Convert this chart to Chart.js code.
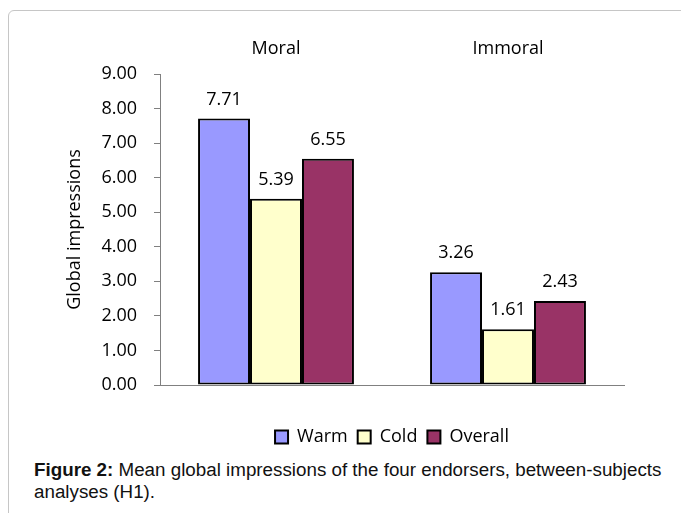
<!DOCTYPE html>
<html>
<head>
<meta charset="utf-8">
<script src="https://cdn.jsdelivr.net/npm/chart.js@4"></script>
<style>
  html, body { margin: 0; padding: 0; background: #fff; width: 681px; height: 513px; overflow: hidden; }
  #frame { position: absolute; left: 8px; top: 10px; width: 720px; height: 560px; border: 1px solid #c6c6c6; border-radius: 6px; box-sizing: border-box; }
  #wrap { position: absolute; left: 0; top: 0; width: 681px; height: 459px; }
  #caption { position: absolute; left: 34px; top: 459px; font-family: "Liberation Sans", Arial, sans-serif; font-size: 18.8px; line-height: 22px; color: #111; white-space: nowrap; }
</style>
</head>
<body>
<div id="frame"></div>
<div id="wrap"><canvas id="c"></canvas></div>
<div id="caption"><b>Figure 2:</b> Mean global impressions of the four endorsers, between-subjects<br>analyses (H1).</div>
<script>
const categories = ["Moral", "Immoral"];
const warmValues = [7.71, 3.26];
const coldValues = [5.39, 1.61];
const overallValues = [6.55, 2.43];
const yTicks = [0, 1, 2, 3, 4, 5, 6, 7, 8, 9];
const yTitle = "Global impressions";

const FONT = "'Open Sans', sans-serif";

const valueLabels = {
  id: 'valueLabels',
  afterDatasetsDraw(chart) {
    const ctx = chart.ctx;
    ctx.save();
    ctx.font = "18px " + FONT;
    ctx.fillStyle = '#000';
    ctx.textAlign = 'center';
    ctx.textBaseline = 'middle';
    chart.data.datasets.forEach((ds, i) => {
      const meta = chart.getDatasetMeta(i);
      meta.data.forEach((el, j) => {
        ctx.fillText(ds.data[j].toFixed(2), el.x, el.y - 19);
      });
    });
    ctx.restore();
  }
};

new Chart(document.getElementById('c'), {
  type: 'bar',
  data: {
    labels: categories,
    datasets: [
      { label: 'Warm', data: warmValues, backgroundColor: '#9999FF', borderColor: '#000', borderWidth: 2, borderSkipped: false },
      { label: 'Cold', data: coldValues, backgroundColor: '#FFFFCC', borderColor: '#000', borderWidth: 2, borderSkipped: false },
      { label: 'Overall', data: overallValues, backgroundColor: '#993366', borderColor: '#000', borderWidth: 2, borderSkipped: false }
    ]
  },
  options: {
    responsive: true,
    maintainAspectRatio: false,
    animation: false,
    categoryPercentage: 0.672,
    barPercentage: 1,
    layout: { padding: { left: 0, right: 57, top: 0, bottom: 3 } },
    plugins: {
      legend: {
        position: 'bottom',
        fullSize: false,
        labels: { boxWidth: 13, boxHeight: 13, color: '#000', font: { family: FONT, size: 18 }, padding: 10 }
      },
      tooltip: { enabled: false }
    },
    scales: {
      x: {
        position: 'bottom',
        grid: { display: false, drawTicks: false },
        border: { display: true, color: '#808080', width: 1 },
        ticks: { display: false },
        afterFit(s) { s.height = 33; }
      },
      xTop: {
        type: 'category',
        labels: categories,
        position: 'top',
        grid: { display: false, drawTicks: false },
        border: { display: false },
        ticks: { color: '#000', font: { family: FONT, size: 18 }, padding: 14 },
        afterFit(s) { s.height = 74; }
      },
      y: {
        min: 0,
        max: 9,
        afterBuildTicks(s) { s.ticks = yTicks.map(v => ({ value: v })); },
        ticks: { color: '#000', font: { family: FONT, size: 18 }, padding: 17, callback: v => Number(v).toFixed(2) },
        grid: { drawOnChartArea: false, tickColor: '#808080', tickLength: 6, color: '#808080' },
        border: { display: true, color: '#808080', width: 1 },
        title: { display: true, text: yTitle, color: '#000', font: { family: FONT, size: 18 }, padding: { top: 64, bottom: 0 } },
        afterFit(s) { s.width = 160; }
      }
    }
  },
  plugins: [valueLabels]
});
</script>
</body>
</html>
